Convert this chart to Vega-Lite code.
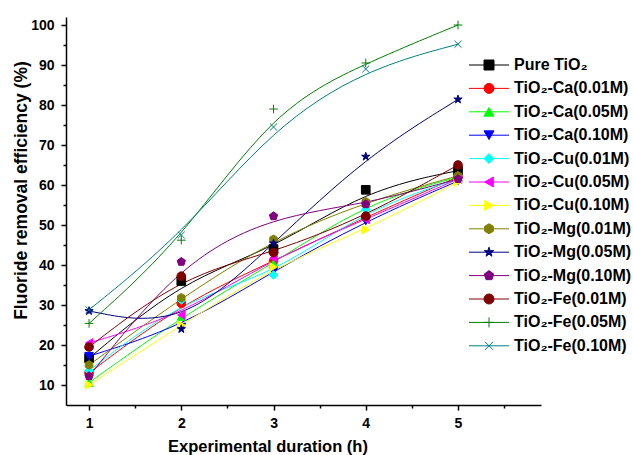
{
  "$schema": "https://vega.github.io/schema/vega-lite/v6.json",
  "width": 475,
  "height": 388,
  "autosize": {"type": "none"},
  "padding": {"left": 66, "top": 17, "right": 92, "bottom": 50},
  "background": "white",
  "config": {
    "font": "Liberation Sans",
    "view": {"stroke": null},
    "axis": {"grid": false, "domainColor": "black", "tickColor": "black", "labelColor": "black", "titleColor": "black"}
  },
  "data": {
    "values": [
      {"s": "Pure TiO₂", "t": 1, "v": 16.7}, {"s": "Pure TiO₂", "t": 2, "v": 36}, {"s": "Pure TiO₂", "t": 3, "v": 44}, {"s": "Pure TiO₂", "t": 4, "v": 58.8}, {"s": "Pure TiO₂", "t": 5, "v": 63.6},
      {"s": "TiO₂-Ca(0.01M)", "t": 1, "v": 13}, {"s": "TiO₂-Ca(0.01M)", "t": 2, "v": 30.4}, {"s": "TiO₂-Ca(0.01M)", "t": 3, "v": 41}, {"s": "TiO₂-Ca(0.01M)", "t": 4, "v": 52}, {"s": "TiO₂-Ca(0.01M)", "t": 5, "v": 62},
      {"s": "TiO₂-Ca(0.05M)", "t": 1, "v": 10.6}, {"s": "TiO₂-Ca(0.05M)", "t": 2, "v": 27.1}, {"s": "TiO₂-Ca(0.05M)", "t": 3, "v": 40.4}, {"s": "TiO₂-Ca(0.05M)", "t": 4, "v": 55.5}, {"s": "TiO₂-Ca(0.05M)", "t": 5, "v": 62},
      {"s": "TiO₂-Ca(0.10M)", "t": 1, "v": 17.2}, {"s": "TiO₂-Ca(0.10M)", "t": 2, "v": 24.5}, {"s": "TiO₂-Ca(0.10M)", "t": 3, "v": 38.5}, {"s": "TiO₂-Ca(0.10M)", "t": 4, "v": 51}, {"s": "TiO₂-Ca(0.10M)", "t": 5, "v": 61},
      {"s": "TiO₂-Cu(0.01M)", "t": 1, "v": 13.6}, {"s": "TiO₂-Cu(0.01M)", "t": 2, "v": 31.2}, {"s": "TiO₂-Cu(0.01M)", "t": 3, "v": 37.5}, {"s": "TiO₂-Cu(0.01M)", "t": 4, "v": 53.9}, {"s": "TiO₂-Cu(0.01M)", "t": 5, "v": 61.5},
      {"s": "TiO₂-Cu(0.05M)", "t": 1, "v": 20.5}, {"s": "TiO₂-Cu(0.05M)", "t": 2, "v": 27.5}, {"s": "TiO₂-Cu(0.05M)", "t": 3, "v": 41.7}, {"s": "TiO₂-Cu(0.05M)", "t": 4, "v": 51.4}, {"s": "TiO₂-Cu(0.05M)", "t": 5, "v": 61.5},
      {"s": "TiO₂-Cu(0.10M)", "t": 1, "v": 10}, {"s": "TiO₂-Cu(0.10M)", "t": 2, "v": 25}, {"s": "TiO₂-Cu(0.10M)", "t": 3, "v": 39.5}, {"s": "TiO₂-Cu(0.10M)", "t": 4, "v": 48.8}, {"s": "TiO₂-Cu(0.10M)", "t": 5, "v": 60.8},
      {"s": "TiO₂-Mg(0.01M)", "t": 1, "v": 15}, {"s": "TiO₂-Mg(0.01M)", "t": 2, "v": 31.8}, {"s": "TiO₂-Mg(0.01M)", "t": 3, "v": 46.4}, {"s": "TiO₂-Mg(0.01M)", "t": 4, "v": 55.8}, {"s": "TiO₂-Mg(0.01M)", "t": 5, "v": 62.3},
      {"s": "TiO₂-Mg(0.05M)", "t": 1, "v": 28.5}, {"s": "TiO₂-Mg(0.05M)", "t": 2, "v": 24}, {"s": "TiO₂-Mg(0.05M)", "t": 3, "v": 45.4}, {"s": "TiO₂-Mg(0.05M)", "t": 4, "v": 67.1}, {"s": "TiO₂-Mg(0.05M)", "t": 5, "v": 81.4},
      {"s": "TiO₂-Mg(0.10M)", "t": 1, "v": 12.2}, {"s": "TiO₂-Mg(0.10M)", "t": 2, "v": 40.8}, {"s": "TiO₂-Mg(0.10M)", "t": 3, "v": 52.2}, {"s": "TiO₂-Mg(0.10M)", "t": 4, "v": 55.2}, {"s": "TiO₂-Mg(0.10M)", "t": 5, "v": 61.5},
      {"s": "TiO₂-Fe(0.01M)", "t": 1, "v": 19.5}, {"s": "TiO₂-Fe(0.01M)", "t": 2, "v": 37.2}, {"s": "TiO₂-Fe(0.01M)", "t": 3, "v": 43.1}, {"s": "TiO₂-Fe(0.01M)", "t": 4, "v": 52.2}, {"s": "TiO₂-Fe(0.01M)", "t": 5, "v": 65},
      {"s": "TiO₂-Fe(0.05M)", "t": 1, "v": 25.4}, {"s": "TiO₂-Fe(0.05M)", "t": 2, "v": 46.2}, {"s": "TiO₂-Fe(0.05M)", "t": 3, "v": 79}, {"s": "TiO₂-Fe(0.05M)", "t": 4, "v": 90.5}, {"s": "TiO₂-Fe(0.05M)", "t": 5, "v": 100},
      {"s": "TiO₂-Fe(0.10M)", "t": 1, "v": 28.8}, {"s": "TiO₂-Fe(0.10M)", "t": 2, "v": 47.5}, {"s": "TiO₂-Fe(0.10M)", "t": 3, "v": 74.5}, {"s": "TiO₂-Fe(0.10M)", "t": 4, "v": 89}, {"s": "TiO₂-Fe(0.10M)", "t": 5, "v": 95.2}
    ]
  },
  "resolve": {"axis": {"x": "independent", "y": "independent"}},
  "layer": [
    {
      "mark": {"type": "line", "interpolate": "basis", "strokeWidth": 1},
      "encoding": {
        "x": {"field": "t", "type": "quantitative", "scale": {"domain": [0.75, 5.9], "nice": false, "zero": false},
          "axis": {"orient": "bottom", "values": [1, 2, 3, 4, 5], "format": "d", "tickSize": 5, "tickWidth": 1.5, "domainWidth": 1.5, "labelFontSize": 14, "labelFontWeight": "bold", "labelPadding": 6, "title": "Experimental duration (h)", "titleFontSize": 16.5, "titleFontWeight": "bold", "titleX": 201.5, "titleY": 41, "titleBaseline": "middle"}},
        "y": {"field": "v", "type": "quantitative", "scale": {"domain": [5, 102], "nice": false, "zero": false},
          "axis": {"orient": "left", "values": [10, 20, 30, 40, 50, 60, 70, 80, 90, 100], "tickSize": 5, "tickWidth": 1.5, "domainWidth": 1.5, "labelFontSize": 14, "labelFontWeight": "bold", "labelPadding": 7, "title": "Fluoride removal efficiency (%)", "titleFontSize": 17.5, "titleFontWeight": "bold", "titleX": -45, "titleY": 173, "titleBaseline": "middle", "titleAngle": -90}},
        "detail": {"field": "s"},
        "color": {"field": "s", "type": "nominal",
          "scale": {"domain": ["Pure TiO₂", "TiO₂-Ca(0.01M)", "TiO₂-Ca(0.05M)", "TiO₂-Ca(0.10M)", "TiO₂-Cu(0.01M)", "TiO₂-Cu(0.05M)", "TiO₂-Cu(0.10M)", "TiO₂-Mg(0.01M)", "TiO₂-Mg(0.05M)", "TiO₂-Mg(0.10M)", "TiO₂-Fe(0.01M)", "TiO₂-Fe(0.05M)", "TiO₂-Fe(0.10M)", "_"],
            "range": ["#000000", "#ff0000", "#00ff00", "#0000ff", "#00ffff", "#ff00ff", "#ffff00", "#808000", "#000080", "#800080", "#800000", "#008000", "#008080", "#ffffff"]},
          "legend": {"orient": "none", "legendX": 402.5, "legendY": 40, "title": null, "padding": 0, "symbolType": "stroke", "symbolSize": 1600, "symbolStrokeWidth": 1, "clipHeight": 16, "rowPadding": 7.4, "labelExpr": "''", "labelFontSize": 16,
            "values": ["Pure TiO₂", "TiO₂-Ca(0.01M)", "TiO₂-Ca(0.05M)", "TiO₂-Ca(0.10M)", "TiO₂-Cu(0.01M)", "TiO₂-Cu(0.05M)", "TiO₂-Cu(0.10M)", "TiO₂-Mg(0.01M)", "TiO₂-Mg(0.05M)", "TiO₂-Mg(0.10M)", "TiO₂-Fe(0.01M)", "TiO₂-Fe(0.05M)", "TiO₂-Fe(0.10M)"]}}
      }
    },
    {
      "mark": {"type": "point", "filled": true, "opacity": 1, "size": 75, "strokeWidth": 1},
      "encoding": {
        "x": {"field": "t", "type": "quantitative",
          "axis": {"orient": "bottom", "values": [1.5, 2.5, 3.5, 4.5, 5.5], "labels": false, "domain": false, "tickSize": 3, "tickWidth": 1.5, "title": null}},
        "y": {"field": "v", "type": "quantitative",
          "axis": {"orient": "left", "values": [15, 25, 35, 45, 55, 65, 75, 85, 95], "labels": false, "domain": false, "tickSize": 3, "tickWidth": 1.5, "title": null}},
        "fill": {"field": "s", "type": "nominal",
          "scale": {"domain": ["Pure TiO₂", "TiO₂-Ca(0.01M)", "TiO₂-Ca(0.05M)", "TiO₂-Ca(0.10M)", "TiO₂-Cu(0.01M)", "TiO₂-Cu(0.05M)", "TiO₂-Cu(0.10M)", "TiO₂-Mg(0.01M)", "TiO₂-Mg(0.05M)", "TiO₂-Mg(0.10M)", "TiO₂-Fe(0.01M)", "TiO₂-Fe(0.05M)", "TiO₂-Fe(0.10M)"],
            "range": ["#000000", "#ff0000", "#00ff00", "#0000ff", "#00ffff", "#ff00ff", "#ffff00", "#808000", "#000080", "#800080", "#800000", "#008000", "#008080"]},
          "legend": {"orient": "none", "legendX": 415, "legendY": 40, "title": null, "padding": 0, "symbolSize": 100, "symbolStrokeWidth": 1, "clipHeight": 16, "rowPadding": 7.4, "labelFontSize": 16, "labelFontWeight": "bold", "labelColor": "black", "labelOffset": 17, "labelLimit": 0, "symbolOpacity": 1}},
        "stroke": {"field": "s", "type": "nominal",
          "scale": {"domain": ["Pure TiO₂", "TiO₂-Ca(0.01M)", "TiO₂-Ca(0.05M)", "TiO₂-Ca(0.10M)", "TiO₂-Cu(0.01M)", "TiO₂-Cu(0.05M)", "TiO₂-Cu(0.10M)", "TiO₂-Mg(0.01M)", "TiO₂-Mg(0.05M)", "TiO₂-Mg(0.10M)", "TiO₂-Fe(0.01M)", "TiO₂-Fe(0.05M)", "TiO₂-Fe(0.10M)"],
            "range": ["#000000", "#ff0000", "#00ff00", "#0000ff", "#00ffff", "#ff00ff", "#ffff00", "#808000", "#000080", "#800080", "#800000", "#008000", "#008080"]},
          "legend": {"orient": "none", "legendX": 415, "legendY": 40, "title": null, "padding": 0, "symbolSize": 100, "symbolStrokeWidth": 1, "clipHeight": 16, "rowPadding": 7.4, "labelFontSize": 16, "labelFontWeight": "bold", "labelColor": "black", "labelOffset": 17, "labelLimit": 0, "symbolOpacity": 1}},
        "shape": {"field": "s", "type": "nominal",
          "scale": {"domain": ["Pure TiO₂", "TiO₂-Ca(0.01M)", "TiO₂-Ca(0.05M)", "TiO₂-Ca(0.10M)", "TiO₂-Cu(0.01M)", "TiO₂-Cu(0.05M)", "TiO₂-Cu(0.10M)", "TiO₂-Mg(0.01M)", "TiO₂-Mg(0.05M)", "TiO₂-Mg(0.10M)", "TiO₂-Fe(0.01M)", "TiO₂-Fe(0.05M)", "TiO₂-Fe(0.10M)"],
            "range": ["square", "circle", "triangle-up", "triangle-down", "diamond", "triangle-left", "triangle-right",
              "M0,-1L0.866,-0.5L0.866,0.5L0,1L-0.866,0.5L-0.866,-0.5Z",
              "M0,-1L0.2245,-0.309L0.951,-0.309L0.363,0.118L0.588,0.809L0,0.382L-0.588,0.809L-0.363,0.118L-0.951,-0.309L-0.2245,-0.309Z",
              "M0,-1L0.951,-0.309L0.588,0.809L-0.588,0.809L-0.951,-0.309Z",
              "circle",
              "M-1,0L1,0M0,-1L0,1",
              "M-0.8,-0.8L0.8,0.8M-0.8,0.8L0.8,-0.8"]},
          "legend": {"orient": "none", "legendX": 415, "legendY": 40, "title": null, "padding": 0, "symbolSize": 100, "symbolStrokeWidth": 1, "clipHeight": 16, "rowPadding": 7.4, "labelFontSize": 16, "labelFontWeight": "bold", "labelColor": "black", "labelOffset": 17, "labelLimit": 0, "symbolOpacity": 1}}
      }
    }
  ]
}
